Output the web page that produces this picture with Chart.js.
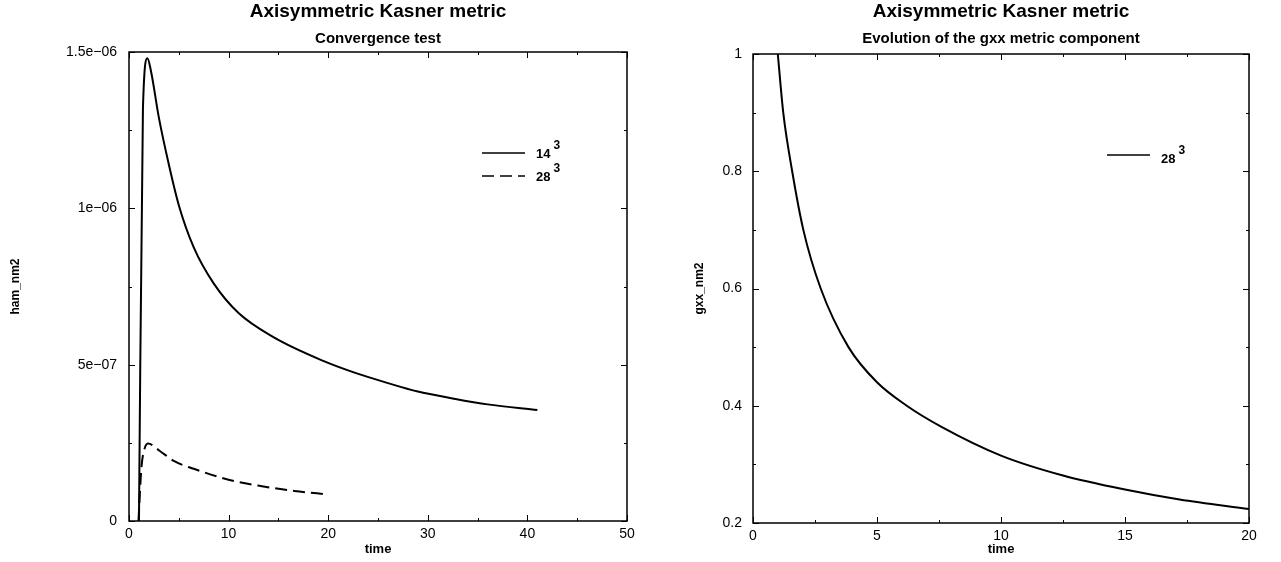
<!DOCTYPE html>
<html>
<head>
<meta charset="utf-8">
<script src="https://cdn.jsdelivr.net/npm/chart.js@4.4.1/dist/chart.umd.min.js"></script>
<style>
    body { margin: 0; background: #fff; width: 1281px; height: 562px; overflow: hidden; position: relative; }
    .panel { position: absolute; top: 0; height: 562px; }
    #left-panel { left: 0; width: 640px; }
    #right-panel { left: 640px; width: 641px; }
</style>
</head>
<body>
<div class="panel" id="left-panel"><canvas id="hamChart" width="640" height="562"></canvas></div>
<div class="panel" id="right-panel"><canvas id="gxxChart" width="641" height="562"></canvas></div>
<script>
// Data
const hamTime14 = [1.0, 1.4, 1.85, 2.2, 3, 4, 5, 6.5, 8.5, 11, 14.5, 19.5, 22.5, 26, 29, 32.5, 36, 41];
const hamValue14 = [0, 1.32e-6, 1.48e-6, 1.44e-6, 1.29e-6, 1.14e-6, 1.01e-6, 8.75e-7, 7.6e-7, 6.65e-7, 5.88e-7, 5.12e-7, 4.76e-7, 4.41e-7, 4.14e-7, 3.92e-7, 3.73e-7, 3.55e-7];
const hamTime28 = [0.95, 1.25, 1.5, 1.9, 3.1, 4.5, 6.5, 9.9, 13.2, 16.6, 20];
const hamValue28 = [0, 1.72e-7, 2.24e-7, 2.48e-7, 2.24e-7, 1.92e-7, 1.67e-7, 1.33e-7, 1.12e-7, 9.6e-8, 8.5e-8];
const gxxTime28 = [1.0, 1.22, 1.58, 2.03, 2.73, 3.85, 5, 6.2, 7.6, 10, 12.5, 15, 17.2, 20];
const gxxValue28 = [1.0, 0.9, 0.8, 0.7, 0.6, 0.5, 0.44, 0.4, 0.364, 0.315, 0.281, 0.257, 0.240, 0.224];

// Axis ticks and labels
const hamXTicks = [0, 10, 20, 30, 40, 50];
const hamYTicks = [0, 5e-7, 1e-6, 1.5e-6];
const hamYLabels = ['0', '5e\u221207', '1e\u221206', '1.5e\u221206'];
const gxxXTicks = [0, 5, 10, 15, 20];
const gxxYTicks = [0.2, 0.4, 0.6, 0.8, 1];
const gxxYLabels = ['0.2', '0.4', '0.6', '0.8', '1'];

// Text
const mainTitle = 'Axisymmetric Kasner metric';
const hamSubtitle = 'Convergence test';
const gxxSubtitle = 'Evolution of the gxx metric component';
const hamLegendNames = ['14', '28'];
const gxxLegendNames = ['28'];
const legendPower = '3';

const FONT = '"Liberation Sans", Arial, sans-serif';
Chart.defaults.font.family = FONT;
Chart.defaults.color = '#000';

const toPoints = (xs, ys) => xs.map((t, i) => ({ x: t, y: ys[i] }));

// box around the plot with inward ticks on every side
const framePlugin = {
    id: 'frame',
    afterDatasetsDraw(chart) {
        const { ctx, chartArea: a, scales: { x, y } } = chart;
        ctx.save();
        ctx.strokeStyle = '#000';
        ctx.lineWidth = 1;
        const seg = (x1, y1, x2, y2) => { ctx.beginPath(); ctx.moveTo(x1, y1); ctx.lineTo(x2, y2); ctx.stroke(); };
        const withMinor = (vals) => {
            const out = [];
            vals.forEach((v, i) => {
                out.push([v, 6]);
                if (i < vals.length - 1) out.push([(v + vals[i + 1]) / 2, 3]);
            });
            return out;
        };
        withMinor(x.ticks.map(t => t.value)).forEach(([v, len]) => {
            const px = Math.round(x.getPixelForValue(v)) + 0.5;
            seg(px, a.bottom, px, a.bottom - len);
            seg(px, a.top, px, a.top + len);
        });
        withMinor(y.ticks.map(t => t.value)).forEach(([v, len]) => {
            const py = Math.round(y.getPixelForValue(v)) + 0.5;
            seg(a.left, py, a.left + len, py);
            seg(a.right, py, a.right - len, py);
        });
        ctx.lineWidth = 1.5;
        ctx.strokeRect(a.left, a.top, a.right - a.left, a.bottom - a.top);
        ctx.restore();
    }
};

// titles centred over the plot area
const headPlugin = {
    id: 'head',
    afterDraw(chart, args, opts) {
        const { ctx, chartArea: a } = chart;
        const cx = (a.left + a.right) / 2;
        ctx.save();
        ctx.fillStyle = '#000';
        ctx.textAlign = 'center';
        ctx.textBaseline = 'middle';
        ctx.font = `bold 19px ${FONT}`;
        ctx.fillText(opts.title, cx, 12);
        ctx.font = `bold 15px ${FONT}`;
        ctx.fillText(opts.subtitle, cx, 39);
        ctx.restore();
    }
};

// legend with superscript power, placed inside the plot
const keyPlugin = {
    id: 'key',
    afterDraw(chart, args, opts) {
        const { ctx } = chart;
        ctx.save();
        chart.data.datasets.forEach((ds, i) => {
            const ly = opts.y + i * opts.rowGap;
            ctx.strokeStyle = '#000';
            ctx.lineWidth = 1.6;
            ctx.setLineDash(ds.borderDash || []);
            ctx.beginPath();
            ctx.moveTo(opts.x, ly);
            ctx.lineTo(opts.x + 43, ly);
            ctx.stroke();
            ctx.setLineDash([]);
            ctx.fillStyle = '#000';
            ctx.textBaseline = 'alphabetic';
            ctx.textAlign = 'left';
            ctx.font = `bold 13px ${FONT}`;
            const tx = opts.x + 54;
            ctx.fillText(ds.label, tx, ly + opts.textDrop);
            const w = ctx.measureText(ds.label).width;
            ctx.font = `bold 12px ${FONT}`;
            ctx.fillText(legendPower, tx + w + 3, ly + opts.textDrop - 9);
        });
        ctx.restore();
    }
};

function buildChart(canvasId, cfg) {
    return new Chart(document.getElementById(canvasId), {
        type: 'line',
        data: { datasets: cfg.datasets },
        options: {
            responsive: false,
            animation: false,
            layout: { padding: { top: cfg.top, right: cfg.right, left: 0, bottom: 0 } },
            elements: {
                point: { radius: 0 },
                line: { borderColor: '#000', borderWidth: 2, cubicInterpolationMode: 'monotone', fill: false }
            },
            scales: {
                x: {
                    type: 'linear',
                    min: cfg.xTicks[0],
                    max: cfg.xTicks[cfg.xTicks.length - 1],
                    afterBuildTicks: (s) => { s.ticks = cfg.xTicks.map(v => ({ value: v })); },
                    afterFit: (s) => { s.height = 562 - cfg.bottom; },
                    grid: { display: false, drawTicks: false },
                    border: { display: false },
                    ticks: { font: { size: 14 }, padding: 5, maxRotation: 0, callback: (v) => String(v) },
                    title: { display: true, text: 'time', font: { size: 13, weight: 'bold' }, padding: { top: 0, bottom: 5 } }
                },
                y: {
                    type: 'linear',
                    min: cfg.yTicks[0],
                    max: cfg.yTicks[cfg.yTicks.length - 1],
                    afterBuildTicks: (s) => { s.ticks = cfg.yTicks.map(v => ({ value: v })); },
                    afterFit: (s) => { s.width = cfg.left; },
                    grid: { display: false, drawTicks: false },
                    border: { display: false },
                    ticks: { font: { size: 14 }, padding: cfg.labelGap, callback: (v, i) => cfg.yLabels[i] },
                    title: { display: true, text: cfg.yTitle, font: { size: 12, weight: 'bold' }, padding: { top: cfg.yTitlePad, bottom: 0 } }
                }
            },
            plugins: {
                legend: { display: false },
                tooltip: { enabled: false },
                head: { title: mainTitle, subtitle: cfg.subtitle },
                key: cfg.key
            }
        },
        plugins: [framePlugin, headPlugin, keyPlugin]
    });
}

buildChart('hamChart', {
    datasets: [
        { label: hamLegendNames[0], data: toPoints(hamTime14, hamValue14) },
        { label: hamLegendNames[1], data: toPoints(hamTime28, hamValue28), borderDash: [12, 6] }
    ],
    xTicks: hamXTicks, yTicks: hamYTicks, yLabels: hamYLabels,
    yTitle: 'ham_nm2', yTitlePad: 8, subtitle: hamSubtitle,
    top: 52, right: 13, left: 129, bottom: 521, labelGap: 12,
    key: { x: 482, y: 153, rowGap: 23, textDrop: 5 }
});

buildChart('gxxChart', {
    datasets: [
        { label: gxxLegendNames[0], data: toPoints(gxxTime28, gxxValue28) }
    ],
    xTicks: gxxXTicks, yTicks: gxxYTicks, yLabels: gxxYLabels,
    yTitle: 'gxx_nm2', yTitlePad: 52, subtitle: gxxSubtitle,
    top: 54, right: 32, left: 113, bottom: 523, labelGap: 11,
    key: { x: 467, y: 155, rowGap: 23, textDrop: 8 }
});
</script>
</body>
</html>
